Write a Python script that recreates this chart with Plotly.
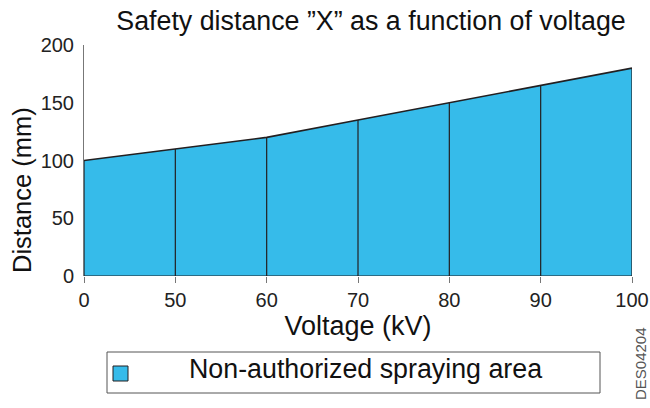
import plotly.graph_objects as go

voltage_labels = ["0", "50", "60", "70", "80", "90", "100"]
distance_mm = [100, 110, 120, 135, 150, 165, 180]
y_ticks = [0, 50, 100, 150, 200]
series_name = "Non-authorized spraying area"

FILL = "#36bbea"
EDGE = "#231f20"
FONT = "Liberation Sans, Arial, sans-serif"

# plot-area geometry (pixels)
W_FIG, H_FIG = 650, 408
L, R, T, B = 84, 632, 45, 276
PW, PH = R - L, B - T


def px(xp):
    return (xp - L) / PW


def py(yp):
    return (B - yp) / PH


fig = go.Figure()
fig.add_trace(go.Scatter(
    x=voltage_labels, y=distance_mm, mode="lines", fill="tozeroy",
    fillcolor=FILL, line=dict(color=EDGE, width=1.6), name=series_name,
    showlegend=False, hoverinfo="x+y",
))

# vertical separators at each voltage, drawn from the data
seg_x, seg_y = [], []
for v, d in zip(voltage_labels, distance_mm):
    seg_x += [v, v, None]
    seg_y += [0, d, None]
seg_x += [voltage_labels[0], voltage_labels[-1]]
seg_y += [0, 0]
fig.add_trace(go.Scatter(x=seg_x, y=seg_y, mode="lines", line=dict(color=EDGE, width=1.2),
                         showlegend=False, hoverinfo="skip"))

shapes = [
    dict(type="rect", xref="paper", yref="paper", x0=px(107), x1=px(600), y0=py(393), y1=py(352),
         line=dict(color="#555", width=1), fillcolor="white"),
    dict(type="rect", xref="paper", yref="paper", x0=px(113), x1=px(128), y0=py(381), y1=py(366),
         line=dict(color=EDGE, width=1), fillcolor=FILL),
]

annotations = [
    dict(text=series_name, xref="paper", yref="paper", x=px(365), y=py(369), showarrow=False,
         xanchor="center", yanchor="middle", font=dict(size=26.8, color="#111", family=FONT)),
    dict(text="DES04204", xref="paper", yref="paper", x=px(640), y=py(364), showarrow=False,
         textangle=-90, xanchor="center", yanchor="middle", font=dict(size=15, color="#555", family=FONT)),
    dict(text="Distance (mm)", xref="paper", yref="paper", x=px(22), y=py(190), showarrow=False,
         textangle=-90, xanchor="center", yanchor="middle", font=dict(size=25.5, color="#111", family=FONT)),
]

fig.update_layout(
    width=W_FIG, height=H_FIG,
    margin=dict(l=L, r=W_FIG - R, t=T, b=H_FIG - B),
    paper_bgcolor="white", plot_bgcolor="white",
    font=dict(family=FONT, color="#222"),
    title=dict(text="Safety distance \u201dX\u201d as a function of voltage", x=371 / W_FIG, xanchor="center",
               y=1 - 21 / H_FIG, yanchor="middle", font=dict(size=26.8, color="#111", family=FONT)),
    shapes=shapes, annotations=annotations,
    xaxis=dict(type="category", range=[0, len(voltage_labels) - 1], showgrid=False,
               automargin=False,
               ticks="outside", ticklen=6, tickcolor="#777", showline=False,
               tickfont=dict(size=20, color="#222"), ticklabelstandoff=0,
               title=dict(text="Voltage (kV)", font=dict(size=27, color="#111"), standoff=2)),
    yaxis=dict(range=[0, 200], tickvals=y_ticks, showgrid=False, zeroline=False, automargin=False,
               showline=True, linecolor="#777", linewidth=1, ticks="",
               tickfont=dict(size=20, color="#222"), ticklabelstandoff=5),
)

fig.write_html("out.html", config={"displayModeBar": False},
               post_script="document.body.style.margin='0';")
